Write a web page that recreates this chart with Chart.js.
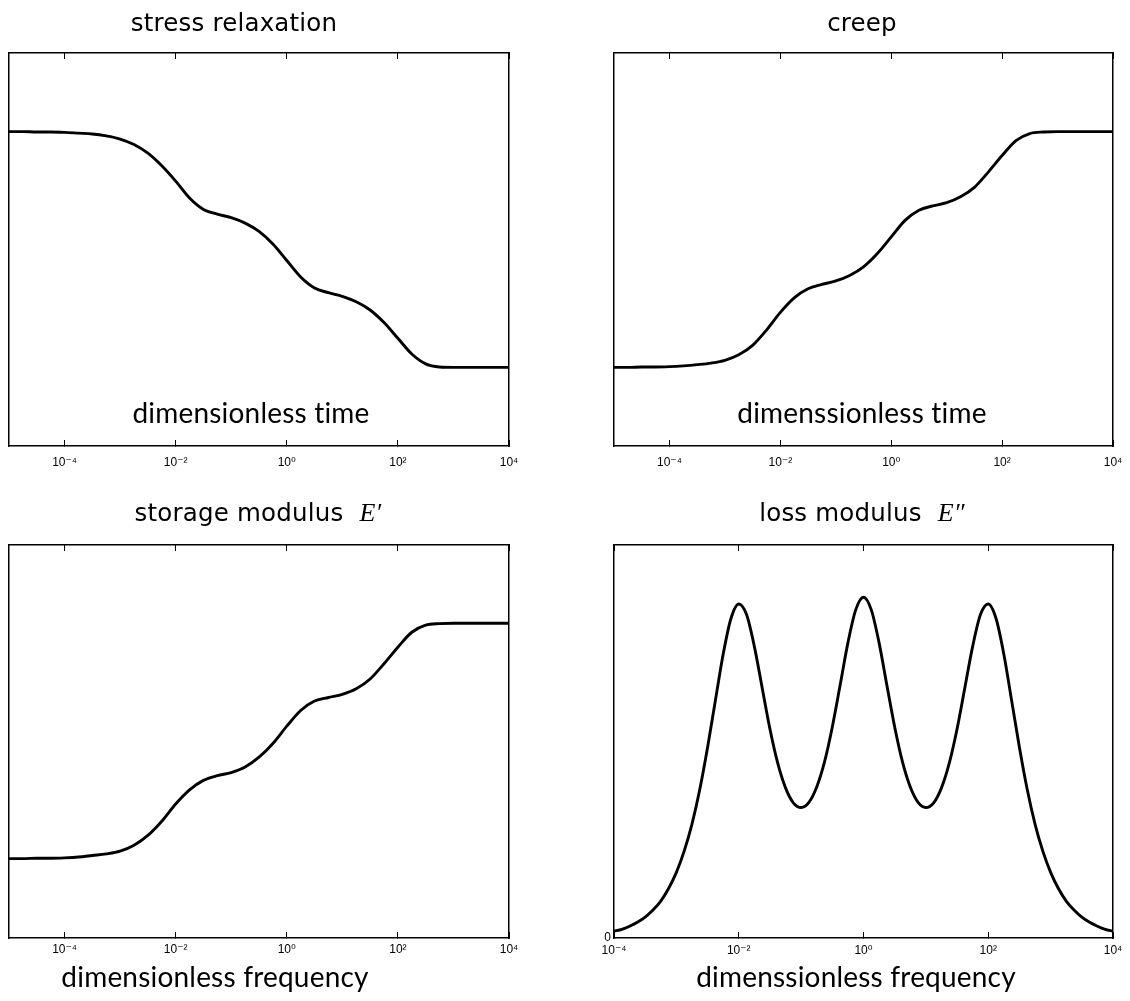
<!DOCTYPE html>
<html>
<head>
<meta charset="utf-8">
<script src="https://cdn.jsdelivr.net/npm/chart.js@4.4.1/dist/chart.umd.min.js"></script>
<style>
  html, body { margin: 0; padding: 0; background: #fff; }
  .panel { position: absolute; }
</style>
</head>
<body>
<div class="panel" style="left:0;top:0"><canvas id="relaxChart" width="565" height="490"></canvas></div>
<div class="panel" style="left:565px;top:0"><canvas id="creepChart" width="565" height="490"></canvas></div>
<div class="panel" style="left:0;top:490px"><canvas id="storageChart" width="565" height="511"></canvas></div>
<div class="panel" style="left:565px;top:490px"><canvas id="lossChart" width="565" height="511"></canvas></div>
<script>
// log10 of time / frequency where the curves were read
var gridExp = [-5, -4.75, -4.5, -4.25, -4, -3.75, -3.5, -3.25, -3, -2.75, -2.5, -2.25, -2,
  -1.75, -1.5, -1.25, -1, -0.75, -0.5, -0.25, 0, 0.25, 0.5, 0.75, 1, 1.25, 1.5, 1.75, 2,
  2.25, 2.5, 2.75, 3, 3.25, 3.5, 3.75, 4];

var relaxation = [0.800, 0.800, 0.799, 0.799, 0.798, 0.796, 0.794, 0.789, 0.781, 0.767, 0.745, 0.713, 0.674,
  0.631, 0.602, 0.590, 0.581, 0.567, 0.546, 0.514, 0.472, 0.430, 0.402, 0.390, 0.381, 0.367, 0.346, 0.314, 0.274,
  0.234, 0.209, 0.201, 0.200, 0.200, 0.200, 0.200, 0.200];

var creep = [0.200, 0.200, 0.201, 0.201, 0.202, 0.204, 0.207, 0.211, 0.218, 0.232, 0.256, 0.295, 0.340,
  0.377, 0.400, 0.411, 0.420, 0.434, 0.456, 0.490, 0.532, 0.574, 0.600, 0.611, 0.619, 0.634, 0.658, 0.697, 0.739,
  0.777, 0.795, 0.799, 0.800, 0.800, 0.800, 0.800, 0.800];

var storage = [0.202, 0.202, 0.203, 0.203, 0.204, 0.206, 0.210, 0.214, 0.221, 0.236, 0.261, 0.297, 0.341,
  0.377, 0.401, 0.413, 0.421, 0.435, 0.460, 0.495, 0.539, 0.579, 0.603, 0.612, 0.620, 0.634, 0.659, 0.698, 0.740,
  0.778, 0.796, 0.800, 0.801, 0.801, 0.801, 0.801, 0.801];

var lossExp = [-4, -3.875, -3.75, -3.625, -3.5, -3.375, -3.25, -3.125, -3, -2.875, -2.75, -2.625, -2.5,
  -2.375, -2.25, -2.125, -2, -1.875, -1.75, -1.625, -1.5, -1.375, -1.25, -1.125, -1, -0.875, -0.75, -0.625,
  -0.5, -0.375, -0.25, -0.125, 0, 0.125, 0.25, 0.375, 0.5, 0.625, 0.75, 0.875, 1, 1.125, 1.25, 1.375, 1.5,
  1.625, 1.75, 1.875, 2, 2.125, 2.25, 2.375, 2.5, 2.625, 2.75, 2.875, 3, 3.125, 3.25, 3.375, 3.5, 3.625,
  3.75, 3.875, 4];

var loss = [0.017, 0.022, 0.030, 0.040, 0.053, 0.071, 0.094, 0.126, 0.167, 0.221, 0.290, 0.378, 0.485,
  0.604, 0.722, 0.813, 0.850, 0.823, 0.742, 0.637, 0.532, 0.445, 0.382, 0.344, 0.332, 0.345, 0.384, 0.448,
  0.537, 0.643, 0.751, 0.835, 0.867, 0.835, 0.751, 0.643, 0.537, 0.448, 0.384, 0.345, 0.332, 0.344, 0.382,
  0.445, 0.532, 0.637, 0.742, 0.823, 0.850, 0.813, 0.722, 0.604, 0.485, 0.378, 0.290, 0.221, 0.167, 0.126,
  0.094, 0.071, 0.053, 0.040, 0.030, 0.022, 0.017];

var tickExp = [-4, -2, 0, 2, 4];

var titleFont = '24.5px "DejaVu Sans", sans-serif';
var labelFont = '28px Lato, "Open Sans", sans-serif';
var mathFont = 'italic 26px "Liberation Serif", "DejaVu Serif", serif';
var tickFont = { family: '"Liberation Sans", "DejaVu Sans", sans-serif', size: 12 };

function sup(n) {
  var map = { '-': '\u207B', '0': '\u2070', '1': '\u00B9', '2': '\u00B2', '3': '\u00B3', '4': '\u2074' };
  return String(n).split('').map(function (c) { return map[c]; }).join('');
}

// titles and in-figure axis labels, mixed fonts (sans + math italic)
var subplotText = {
  id: 'subplotText',
  afterDraw: function (chart, args, opts) {
    var ctx = chart.ctx;
    ctx.save();
    ctx.fillStyle = '#000';
    ctx.textBaseline = 'alphabetic';
    ctx.textAlign = 'left';
    ctx.letterSpacing = '0.2px'; // also stops the Lato "ti" ligature
    [opts.title, opts.xlabel].forEach(function (t) {
      if (!t) return;
      var parts = [{ text: t.text, font: t.font }];
      if (t.math) parts.push({ text: t.math, font: mathFont });
      var total = 0;
      parts.forEach(function (p) { ctx.font = p.font; p.w = ctx.measureText(p.text).width; total += p.w; });
      var x = t.x - total / 2;
      parts.forEach(function (p) { ctx.font = p.font; ctx.fillText(p.text, x, t.y); x += p.w; });
    });
    ctx.restore();
  }
};

function makePanel(id, xExp, values, p) {
  var pts = xExp.map(function (e, i) { return { x: Math.pow(10, e), y: values[i] }; });
  var setTicks = function (s) { s.ticks = tickExp.map(function (e) { return { value: Math.pow(10, e) }; }); };
  var border = { display: true, color: '#000', width: 1.5 };
  var tickGrid = { drawOnChartArea: false, drawTicks: true, tickLength: -6, tickWidth: 1, tickColor: '#000' };

  return new Chart(document.getElementById(id).getContext('2d'), {
    type: 'line',
    data: {
      datasets: [{
        data: pts,
        borderColor: '#000',
        borderWidth: 2.9,
        pointRadius: 0,
        fill: false,
        cubicInterpolationMode: 'monotone'
      }]
    },
    plugins: [subplotText],
    options: {
      responsive: false,
      animation: false,
      layout: { padding: p.pad },
      plugins: {
        legend: { display: false },
        tooltip: { enabled: false },
        subplotText: { title: p.title, xlabel: p.xlabel }
      },
      scales: {
        x: {
          type: 'logarithmic', position: 'bottom', min: p.xmin, max: 1e4,
          afterBuildTicks: setTicks,
          afterFit: function (s) { s.height = p.bottomH; s.paddingLeft = 0; s.paddingRight = 0; },
          grid: tickGrid, border: border,
          ticks: {
            autoSkip: false, maxRotation: 0, padding: p.tickPad, color: '#000', font: tickFont,
            callback: function (v) { return '10' + sup(Math.round(Math.log10(v))); }
          }
        },
        xTop: {
          type: 'logarithmic', position: 'top', min: p.xmin, max: 1e4,
          afterBuildTicks: setTicks,
          afterFit: function (s) { s.height = 0; s.paddingLeft = 0; s.paddingRight = 0; },
          grid: tickGrid, border: border,
          ticks: { display: false }
        },
        y: {
          type: 'linear', position: 'left', min: 0, max: 1,
          afterBuildTicks: function (s) { s.ticks = p.zeroLabel ? [{ value: 0 }] : []; },
          afterFit: function (s) { s.width = p.yW || 0; s.paddingTop = 0; s.paddingBottom = 0; },
          grid: { display: false, drawTicks: false }, border: border,
          ticks: {
            display: !!p.zeroLabel, padding: 3, color: '#000', font: tickFont,
            callback: function () { return '0'; }
          }
        },
        yRight: {
          type: 'linear', position: 'right', min: 0, max: 1,
          afterFit: function (s) { s.width = 0; },
          grid: { display: false, drawTicks: false }, border: border,
          ticks: { display: false }
        }
      }
    }
  });
}

makePanel('relaxChart', gridExp, relaxation, {
  xmin: 1e-5, pad: { left: 9, right: 56, top: 53, bottom: 0 }, bottomH: 44, tickPad: 15,
  title: { text: 'stress relaxation', font: titleFont, x: 234, y: 31 },
  xlabel: { text: 'dimensionless time', font: labelFont, x: 251, y: 423 }
});

makePanel('creepChart', gridExp, creep, {
  xmin: 1e-5, pad: { left: 49, right: 17, top: 53, bottom: 0 }, bottomH: 44, tickPad: 15,
  title: { text: 'creep', font: titleFont, x: 297, y: 31 },
  xlabel: { text: 'dimenssionless time', font: labelFont, x: 297, y: 423 }
});

makePanel('storageChart', gridExp, storage, {
  xmin: 1e-5, pad: { left: 9, right: 56, top: 55, bottom: 0 }, bottomH: 63, tickPad: 10,
  title: { text: 'storage modulus  ', math: 'E\u2032', font: titleFont, x: 258, y: 31 },
  xlabel: { text: 'dimensionless frequency', font: labelFont, x: 215, y: 497 }
});

makePanel('lossChart', lossExp, loss, {
  xmin: 1e-4, zeroLabel: true, yW: 14, pad: { left: 35, right: 17, top: 55, bottom: 0 }, bottomH: 63, tickPad: 11,
  title: { text: 'loss modulus  ', math: 'E\u2033', font: titleFont, x: 297, y: 31 },
  xlabel: { text: 'dimenssionless frequency', font: labelFont, x: 291, y: 497 }
});
</script>
</body>
</html>
